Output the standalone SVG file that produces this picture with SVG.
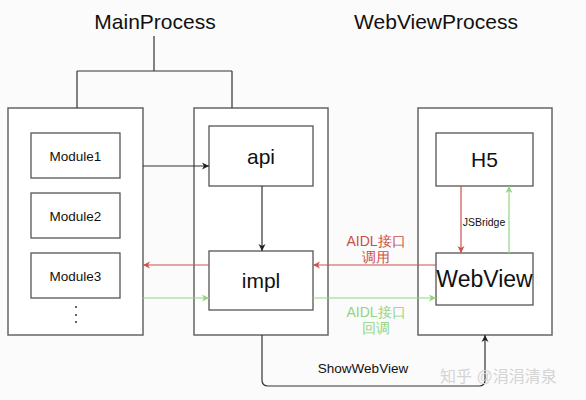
<svg xmlns="http://www.w3.org/2000/svg" width="586" height="400" viewBox="0 0 586 400">
<style>
.box{fill:#fff;stroke:#666;stroke-width:1.5}
.ibox{fill:#fff;stroke:#555;stroke-width:1.3}
.t{font-family:"Liberation Sans",Arial,sans-serif;fill:#111;text-anchor:middle}
.ln{fill:none;stroke:#333;stroke-width:1.2}
.red{fill:none;stroke:#c9534c;stroke-width:1.2}
.grn{fill:none;stroke:#8fd67f;stroke-width:1.2}
</style>
<defs>
<marker id="ab" markerWidth="8" markerHeight="8" refX="7" refY="4" orient="auto" markerUnits="userSpaceOnUse"><path d="M0,0.5 L7,4 L0,7.5 L2,4 Z" fill="#222"/></marker>
<marker id="ar" markerWidth="8" markerHeight="8" refX="7" refY="4" orient="auto" markerUnits="userSpaceOnUse"><path d="M0,0.5 L7,4 L0,7.5 L2,4 Z" fill="#c9534c"/></marker>
<marker id="ag" markerWidth="8" markerHeight="8" refX="7" refY="4" orient="auto" markerUnits="userSpaceOnUse"><path d="M0,0.5 L7,4 L0,7.5 L2,4 Z" fill="#8fd67f"/></marker>
</defs>
<rect width="586" height="400" fill="#fbfbfb"/>
<text class="t" x="155" y="29" font-size="21">MainProcess</text>
<text class="t" x="436" y="29" font-size="21">WebViewProcess</text>
<g id="main-left">
<rect class="box" x="8" y="108" width="135" height="227"/>
</g>
<g id="module1"><rect class="ibox" x="31" y="133" width="89" height="45"/><text class="t" x="75.5" y="160.5" font-size="13.5">Module1</text></g>
<g id="module2"><rect class="ibox" x="31" y="193" width="89" height="45"/><text class="t" x="75.5" y="220.5" font-size="13.5">Module2</text></g>
<g id="module3"><rect class="ibox" x="31" y="253" width="89" height="45"/><text class="t" x="75.5" y="280.5" font-size="13.5">Module3</text></g>
<g id="dots"><circle cx="76" cy="307" r="1" fill="#333"/><circle cx="76" cy="315" r="1" fill="#333"/><circle cx="76" cy="322" r="1" fill="#333"/></g>
<g id="main-right">
<rect class="box" x="194" y="108" width="134" height="227"/>
</g>
<g id="api"><rect class="ibox" x="209" y="126" width="104" height="60"/><text class="t" x="261" y="164" font-size="21">api</text></g>
<g id="impl"><rect class="ibox" x="209" y="251" width="104" height="59"/><text class="t" x="261" y="288" font-size="21">impl</text></g>
<g id="webview-process">
<rect class="box" x="418" y="108" width="134" height="227"/>
</g>
<g id="h5"><rect class="ibox" x="436" y="133" width="97" height="53"/><text class="t" x="484.5" y="167" font-size="21">H5</text></g>
<g id="webview"><rect class="ibox" x="436" y="253" width="97" height="52"/><text class="t" x="484.5" y="287" font-size="23">WebView</text></g>
<g id="connectors">
<path class="ln" d="M154,36 V71 M77,71 H232 M77,71 V108 M232,71 V108"/>
<path class="ln" d="M143,166 H209" marker-end="url(#ab)"/>
<path class="ln" d="M262,186 V251" marker-end="url(#ab)"/>
<path class="red" d="M209,265 H143" marker-end="url(#ar)"/>
<path class="red" d="M436,265 H313" marker-end="url(#ar)"/>
<path class="grn" d="M143,298 H209" marker-end="url(#ag)"/>
<path class="grn" d="M313,298 H436" marker-end="url(#ag)"/>
<path class="red" d="M461,186 V253" marker-end="url(#ar)"/>
<path class="grn" d="M509,253 V186" marker-end="url(#ag)"/>
<path class="ln" d="M262,335 V380 Q262,386 268,386 H479 Q485,386 485,380 V335" marker-end="url(#ab)"/>
<text class="t" x="484" y="226" font-size="10.5" fill="#222">JSBridge</text>
<text class="t" x="376" y="246" font-size="14" style="fill:#cc4f48">AIDL接口</text>
<text class="t" x="376" y="262" font-size="14" style="fill:#cc4f48">调用</text>
<text class="t" x="376" y="317" font-size="14" style="fill:#8fd67f">AIDL接口</text>
<text class="t" x="376" y="333" font-size="14" style="fill:#8fd67f">回调</text>
<text class="t" x="363" y="373" font-size="13.5">ShowWebView</text>
</g>
<text x="440" y="382" font-size="16" font-family="'Liberation Sans','Noto Sans CJK SC',sans-serif" fill="#d4d4d4">知乎 @涓涓清泉</text>
</svg>
